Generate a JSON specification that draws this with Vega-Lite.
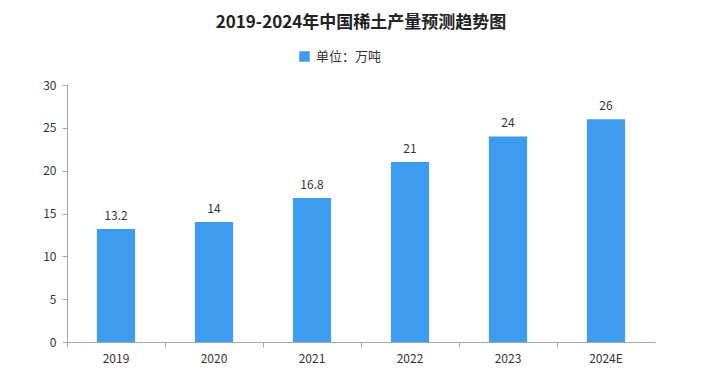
{
  "$schema": "https://vega.github.io/schema/vega-lite/v6.json",
  "width": 588,
  "height": 257,
  "autosize": {"type": "none"},
  "padding": {"left": 67, "top": 85, "right": 59, "bottom": 36},
  "background": "#ffffff",
  "config": {"view": {"stroke": null}},
  "title": {
    "text": "2019-2024年中国稀土产量预测趋势图",
    "font": "Noto Sans CJK SC",
    "fontSize": 17,
    "fontWeight": "bold",
    "color": "#222222",
    "anchor": "middle",
    "offset": 18
  },
  "data": {
    "values": [
      {"year": "2019", "value": 13.2, "label": "13.2"},
      {"year": "2020", "value": 14, "label": "14"},
      {"year": "2021", "value": 16.8, "label": "16.8"},
      {"year": "2022", "value": 21, "label": "21"},
      {"year": "2023", "value": 24, "label": "24"},
      {"year": "2024E", "value": 26, "label": "26"}
    ]
  },
  "encoding": {
    "x": {
      "field": "year",
      "type": "nominal",
      "sort": null,
      "scale": {"paddingInner": 0, "paddingOuter": 0},
      "axis": {
        "title": null,
        "labelAngle": 0,
        "bandPosition": 0,
        "labelFont": "Noto Sans CJK SC",
        "labelFontSize": 12,
        "labelColor": "#333333",
        "labelPadding": 6,
        "domainColor": "#a6a6a6",
        "tickColor": "#a6a6a6",
        "tickSize": 5
      }
    },
    "y": {
      "field": "value",
      "type": "quantitative",
      "scale": {"domain": [0, 30]},
      "axis": {
        "title": null,
        "values": [0, 5, 10, 15, 20, 25, 30],
        "grid": false,
        "labelFont": "Noto Sans CJK SC",
        "labelFontSize": 12,
        "labelColor": "#333333",
        "labelPadding": 6,
        "domainColor": "#a6a6a6",
        "tickColor": "#a6a6a6",
        "tickSize": 5
      }
    }
  },
  "layer": [
    {
      "mark": {"type": "bar", "width": {"band": 0.39}},
      "encoding": {
        "color": {
          "datum": "单位：万吨",
          "scale": {"range": ["#3d9bf0"]},
          "legend": {
            "title": null,
            "orient": "none",
            "legendX": 231,
            "legendY": -35,
            "symbolType": "square",
            "symbolSize": 110,
            "symbolStrokeWidth": 0,
            "labelFont": "Noto Sans CJK SC",
            "labelFontSize": 13,
            "labelColor": "#333333",
            "labelOffset": 5
          }
        }
      }
    },
    {
      "mark": {
        "type": "text",
        "dy": -13,
        "font": "Noto Sans CJK SC",
        "fontSize": 12,
        "color": "#333333"
      },
      "encoding": {"text": {"field": "label"}}
    }
  ]
}
